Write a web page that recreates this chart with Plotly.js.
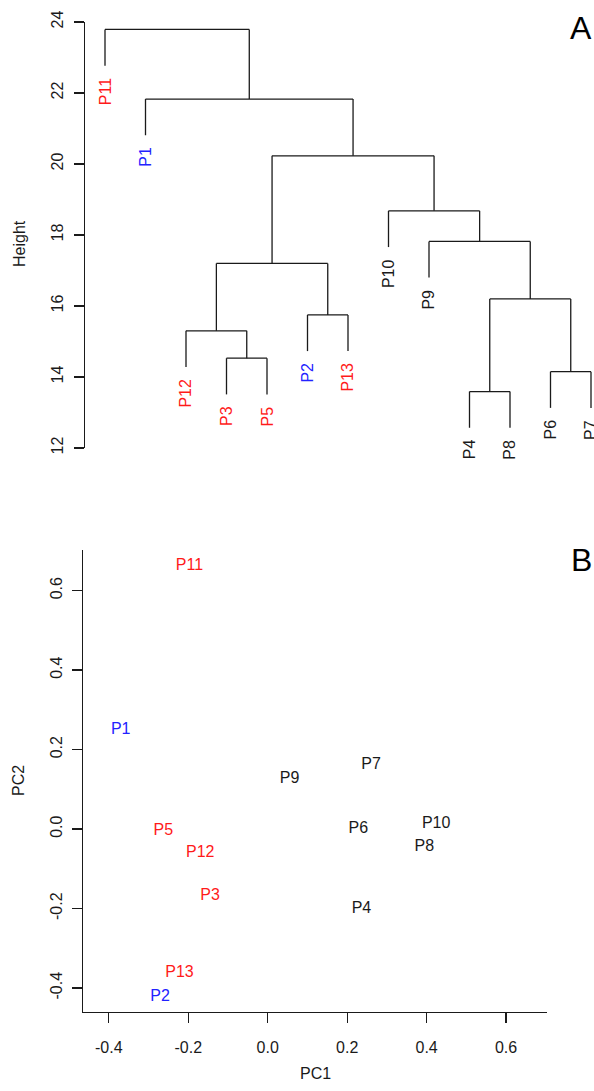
<!DOCTYPE html>
<html>
<head>
<meta charset="utf-8">
<script src="https://cdn.plot.ly/plotly-3.0.1.min.js"></script>
<style>html,body{margin:0;padding:0;background:#fff;}#chart{width:594px;height:1091px;}</style>
</head>
<body>
<div id="chart"></div>
<script>
// ---- Panel A: hierarchical clustering (leaf order left to right) ----
const leafNames = ["P11","P1","P12","P3","P5","P2","P13","P10","P9","P4","P8","P6","P7"];
// merges: mergeA[i] joined with mergeB[i] at mergeHeight[i]; "m<k>" refers to merge k (1-based)
const mergeA = ["P3","P4","P6","P2","P12","m2","m5","P9","P10","m7","P1","P11"];
const mergeB = ["P5","P8","P7","P13","m1","m3","m4","m6","m8","m9","m10","m11"];
const mergeHeight = [14.53,13.59,14.15,15.75,15.30,16.20,17.20,17.82,18.68,20.23,21.83,23.79];
const heightTicks = [12,14,16,18,20,22,24];

// ---- Panel B: PCA ----
const pcaNames = ["P11","P1","P9","P7","P5","P12","P3","P13","P2","P6","P10","P8","P4"];
const pc1 = [-0.197,-0.370,0.055,0.260,-0.263,-0.170,-0.145,-0.222,-0.271,0.228,0.424,0.394,0.236];
const pc2 = [0.663,0.249,0.125,0.161,-0.006,-0.061,-0.169,-0.363,-0.422,0.000,0.013,-0.044,-0.201];
const pcTicks = [-0.4,-0.2,0.0,0.2,0.4,0.6];

const redGroup = ["P3","P5","P11","P12","P13"];
const blueGroup = ["P1","P2"];

const RED = "#ff1a1a", BLUE = "#2222ff", INK = "#1a1a1a";
const FONT = "Liberation Sans, Arial, sans-serif";
function colorOf(n){ return redGroup.includes(n) ? RED : (blueGroup.includes(n) ? BLUE : INK); }

const W = 594, H = 1091;
const px = v => v / W, py = v => (H - v) / H;

// Build dendrogram segments
const nodeX = {}, nodeH = {};
leafNames.forEach((n,i)=>{ nodeX[n] = i+1; nodeH[n] = null; });
const hang = 0.1 * (Math.max(...mergeHeight) - Math.min(...mergeHeight));
const segX = [], segY = [];
const leafBottom = {};
mergeA.forEach((a,i)=>{
  const b = mergeB[i], h = mergeHeight[i], id = "m"+(i+1);
  [a,b].forEach(c=>{
    let bottom = nodeH[c];
    if (bottom === null) { bottom = h - hang; leafBottom[c] = bottom; }
    segX.push(nodeX[c], nodeX[c], null);
    segY.push(bottom, h, null);
  });
  segX.push(nodeX[a], nodeX[b], null);
  segY.push(h, h, null);
  nodeX[id] = (nodeX[a] + nodeX[b]) / 2;
  nodeH[id] = h;
});

const traces = [
  { x: segX, y: segY, mode: "lines", type: "scatter", xaxis: "x", yaxis: "y",
    line: { color: INK, width: 1.3 }, hoverinfo: "skip", showlegend: false },
  { x: pc1, y: pc2, text: pcaNames, mode: "text", type: "scatter", xaxis: "x2", yaxis: "y2",
    textposition: "middle center", cliponaxis: false,
    textfont: { family: FONT, size: 16, color: pcaNames.map(colorOf) }, showlegend: false }
];

const annotations = leafNames.map((n,i)=>({
  x: i+1, y: leafBottom[n], xref: "x", yref: "y", text: n, textangle: -90,
  showarrow: false, xanchor: "center", yanchor: "top", yshift: -10,
  font: { family: FONT, size: 16, color: colorOf(n) }
}));
annotations.push(
  { x: px(581), y: py(28), xref: "paper", yref: "paper", text: "A", showarrow: false,
    xanchor: "center", yanchor: "middle", font: { family: FONT, size: 32, color: "#000" } },
  { x: px(581), y: py(560), xref: "paper", yref: "paper", text: "B", showarrow: false,
    xanchor: "center", yanchor: "middle", font: { family: FONT, size: 32, color: "#000" } },
  { x: px(19), y: py(244), xref: "paper", yref: "paper", text: "Height", textangle: -90, showarrow: false,
    xanchor: "center", yanchor: "middle", font: { family: FONT, size: 16, color: INK } },
  { x: px(18), y: py(781), xref: "paper", yref: "paper", text: "PC2", textangle: -90, showarrow: false,
    xanchor: "center", yanchor: "middle", font: { family: FONT, size: 16, color: INK } },
  { x: px(315), y: py(1073), xref: "paper", yref: "paper", text: "PC1", showarrow: false,
    xanchor: "center", yanchor: "middle", font: { family: FONT, size: 16, color: INK } }
);

// leaf i sits at 105 + (i-1)*40.5 px; domain 85..594 px
const leafPx0 = 105, leafStep = 40.5;
const xA0 = 1 - (leafPx0 - 85) / leafStep, xA1 = 1 + (594 - leafPx0) / leafStep;

const axCommon = {
  showgrid: false, zeroline: false, showline: true, linecolor: INK, linewidth: 1.3,
  ticks: "outside", ticklen: 10, tickwidth: 1.3, tickcolor: INK,
  tickfont: { family: FONT, size: 16, color: INK }
};

const layout = {
  width: W, height: H, margin: { l: 0, r: 0, t: 0, b: 0 },
  paper_bgcolor: "#fff", plot_bgcolor: "#fff", showlegend: false,
  xaxis: { domain: [px(85), 1], range: [xA0, xA1], visible: false, fixedrange: true },
  yaxis: Object.assign({}, axCommon, { domain: [py(448), py(22)], range: [12, 24],
    tickvals: heightTicks, ticktext: heightTicks.map(String), tickangle: -90, anchor: "x",
    ticklabelstandoff: 4 }),
  xaxis2: Object.assign({}, axCommon, { domain: [px(83), px(547)], range: [-0.465, 0.703], anchor: "y2",
    tickvals: pcTicks, ticktext: pcTicks.map(v=>v.toFixed(1)), ticklabelstandoff: 10 }),
  yaxis2: Object.assign({}, axCommon, { domain: [py(1012), py(550)], range: [-0.460, 0.702], anchor: "x2",
    tickvals: pcTicks, ticktext: pcTicks.map(v=>v.toFixed(1)), tickangle: -90, ticklabelstandoff: 3 }),
  annotations: annotations
};

Plotly.newPlot("chart", traces, layout, { staticPlot: true, displayModeBar: false });
</script>
</body>
</html>
